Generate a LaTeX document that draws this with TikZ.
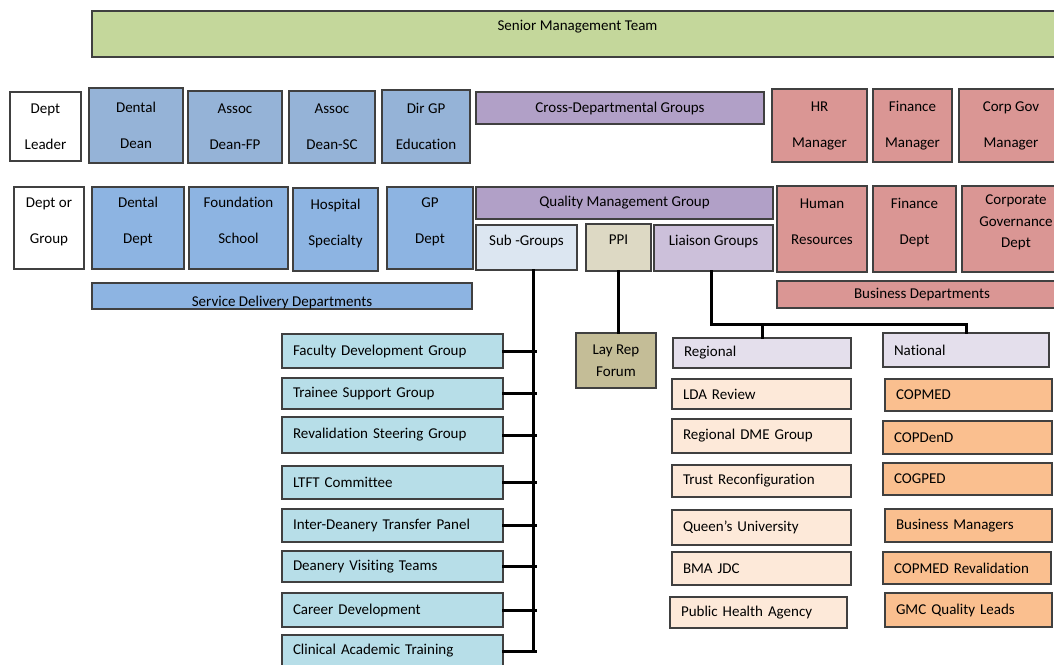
\documentclass[tikz,border=0pt]{standalone}
\usepackage{fontspec}
\setmainfont{Carlito}[Ligatures=NoCommon]
\usetikzlibrary{positioning}
\definecolor{smtgreen}{HTML}{C4D79B}
\definecolor{leadblue}{HTML}{95B3D7}
\definecolor{deptblue}{HTML}{8DB4E2}
\definecolor{groupmauve}{HTML}{B1A0C7}
\definecolor{bizred}{HTML}{DA9694}
\definecolor{subblue}{HTML}{DCE6F1}
\definecolor{ppitan}{HTML}{DDD9C4}
\definecolor{liaisonlilac}{HTML}{CCC0DA}
\definecolor{laytan}{HTML}{C4BD97}
\definecolor{listblue}{HTML}{B7DEE8}
\definecolor{headlilac}{HTML}{E4DFEC}
\definecolor{regpeach}{HTML}{FDE9D9}
\definecolor{natorange}{HTML}{FABF8F}
\definecolor{edgegray}{HTML}{404040}
\tikzset{
  orgcell/.style={draw=edgegray, line width=1.2pt, inner sep=0pt, align=center, font=\fontsize{15}{36}\selectfont},
  tight/.style={font=\fontsize{15}{21.5}\selectfont},
  raised/.style={text depth=15pt},
  link/.style={line width=3pt, black, line cap=rect},
}
\newcommand\orgbox[7]{
  \node[orgcell, #1, minimum width={(#5-#3)*1pt}, minimum height={(#6-#4)*1pt}] (#2) at ({(#3+#5)/2},{(#4+#6)/2}) {#7};
}
\newcommand\listbox[7]{
  \node[orgcell, #1, minimum width={(#5-#3)*1pt}, minimum height={(#6-#4)*1pt}, text width={(#5-#3-22)*1pt}, align=left] (#2) at ({(#3+#5)/2},{(#4+#6)/2}) {#7};
}

\begin{document}
\begin{tikzpicture}[x=1pt, y=-1pt]
  \useasboundingbox[fill=white] (0,0) rectangle (1054,664);

  % senior team
  \orgbox{fill=smtgreen}{smt}{92}{11}{1063}{57}{}
  \node[font=\fontsize{15}{18}\selectfont] (smtlabel) at ([yshift=-16pt]smt.north) {Senior Management Team};

  % leaders
  \orgbox{}{leader}{10}{92}{81}{161}{Dept\\Leader}
  \orgbox{fill=leadblue}{dean}{89}{88}{183}{163}{Dental\\Dean}
  \orgbox{fill=leadblue}{deanfp}{188}{91}{282}{163}{Assoc\\Dean-FP}
  \orgbox{fill=leadblue}{deansc}{289}{91}{375}{163}{Assoc\\Dean-SC}
  \orgbox{fill=leadblue}{dirgp}{382}{90}{470}{163}{Dir GP\\Education}
  \orgbox{fill=groupmauve}{crossdept}{476}{92}{764}{124}{Cross-Departmental Groups}
  \orgbox{fill=bizred}{hrman}{772}{89}{867}{162}{HR\\Manager}
  \orgbox{fill=bizred}{finman}{873}{89}{952}{162}{Finance\\Manager}
  \orgbox{fill=bizred}{corpman}{959}{89}{1063}{162}{Corp Gov\\Manager}

  % departments and groups
  \orgbox{raised}{group}{14}{187}{84}{269}{Dept or\\Group}
  \orgbox{fill=deptblue, raised}{dentdept}{92}{187}{184}{269}{Dental\\Dept}
  \orgbox{fill=deptblue, raised}{foundation}{189}{187}{288}{269}{Foundation\\School}
  \orgbox{fill=deptblue, raised}{hospital}{293}{188}{378}{271}{Hospital\\Specialty}
  \orgbox{fill=deptblue, raised}{gpdept}{387}{187}{473}{269}{GP\\Dept}
  \orgbox{fill=groupmauve}{qmg}{476}{187}{773}{219}{Quality Management Group}
  \orgbox{fill=subblue, raised}{subgroups}{476}{225}{577}{270}{Sub -Groups}
  \orgbox{fill=ppitan, raised}{ppi}{586}{224}{651}{271}{PPI}
  \orgbox{fill=liaisonlilac, raised}{liaison}{654}{225}{773}{271}{Liaison Groups}
  \orgbox{fill=bizred, raised}{hr}{777}{186}{867}{272}{Human\\Resources}
  \orgbox{fill=bizred, raised}{findept}{873}{186}{956}{272}{Finance\\Dept}
  \orgbox{fill=bizred, tight, raised}{corpgov}{962}{186}{1070}{272}{Corporate\\Governance\\Dept}

  \orgbox{fill=deptblue}{service}{92}{283}{472}{309}{}
  \begin{scope}
    \clip (service.south west) rectangle (service.north east);
    \node[font=\fontsize{15}{18}\selectfont, anchor=base] (servicelabel) at ([yshift=3pt]service.south) {Service Delivery Departments};
  \end{scope}
  \draw[edgegray, line width=1.2pt] (service.south west) rectangle (service.north east);
  \orgbox{fill=bizred}{business}{777}{281}{1067}{308}{Business Departments}

  % sub-groups
  \listbox{fill=listblue}{faculty}{282}{334}{503}{368}{Faculty Development Group}
  \listbox{fill=listblue}{trainee}{282}{378}{503}{409}{Trainee Support Group}
  \listbox{fill=listblue}{reval}{282}{417}{503}{453}{Revalidation Steering Group}
  \listbox{fill=listblue}{ltft}{282}{466}{503}{499}{LTFT Committee}
  \listbox{fill=listblue}{interdeanery}{282}{509}{503}{542}{Inter-Deanery Transfer Panel}
  \listbox{fill=listblue}{visiting}{282}{551}{503}{582}{Deanery Visiting Teams}
  \listbox{fill=listblue}{career}{282}{593}{503}{627}{Career Development}
  \listbox{fill=listblue}{clinical}{282}{635}{503}{667}{Clinical Academic Training}

  \orgbox{fill=laytan, tight}{layrep}{576}{333}{656}{388}{Lay Rep\\Forum}

  % liaison groups
  \listbox{fill=headlilac}{regional}{673}{338}{851}{368}{Regional}
  \listbox{fill=headlilac}{national}{883}{333}{1049}{367}{National}
  \listbox{fill=regpeach}{lda}{672}{379}{851}{409}{LDA Review}
  \listbox{fill=regpeach}{dme}{672}{419}{851}{453}{Regional DME Group}
  \listbox{fill=regpeach}{trust}{672}{465}{851}{497}{Trust Reconfiguration}
  \listbox{fill=regpeach}{queens}{672}{510}{851}{545}{Queen’s University}
  \listbox{fill=regpeach}{bma}{672}{552}{851}{585}{BMA JDC}
  \listbox{fill=regpeach}{pha}{670}{597}{847}{628}{Public Health Agency}
  \listbox{fill=natorange}{copmed}{885}{379}{1052}{411}{COPMED}
  \listbox{fill=natorange}{copdend}{883}{421}{1052}{454}{COPDenD}
  \listbox{fill=natorange}{cogped}{883}{463}{1052}{495}{COGPED}
  \listbox{fill=natorange}{bizman}{885}{509}{1052}{542}{Business Managers}
  \listbox{fill=natorange}{copmedrev}{883}{552}{1051}{584}{COPMED Revalidation}
  \listbox{fill=natorange}{gmc}{885}{593}{1052}{627}{GMC Quality Leads}

  % connectors
  \coordinate (spine) at (533,0);
  \draw[link] (subgroups.south -| spine) -- (clinical.east -| spine);
  \foreach \item in {faculty,trainee,reval,ltft,interdeanery,visiting,career,clinical}
    \draw[link] (\item.east) -- ([xshift=2pt]\item.east -| spine);
  \draw[link] (ppi.south) -- (ppi.south |- layrep.north);
  \coordinate (liaisonbar) at (711,324);
  \draw[link] (liaison.south -| liaisonbar) -- (liaisonbar) -- (liaisonbar -| national.north) -- (national.north);
  \draw[link] (regional.north |- liaisonbar) -- (regional.north);
\end{tikzpicture}
\end{document}
